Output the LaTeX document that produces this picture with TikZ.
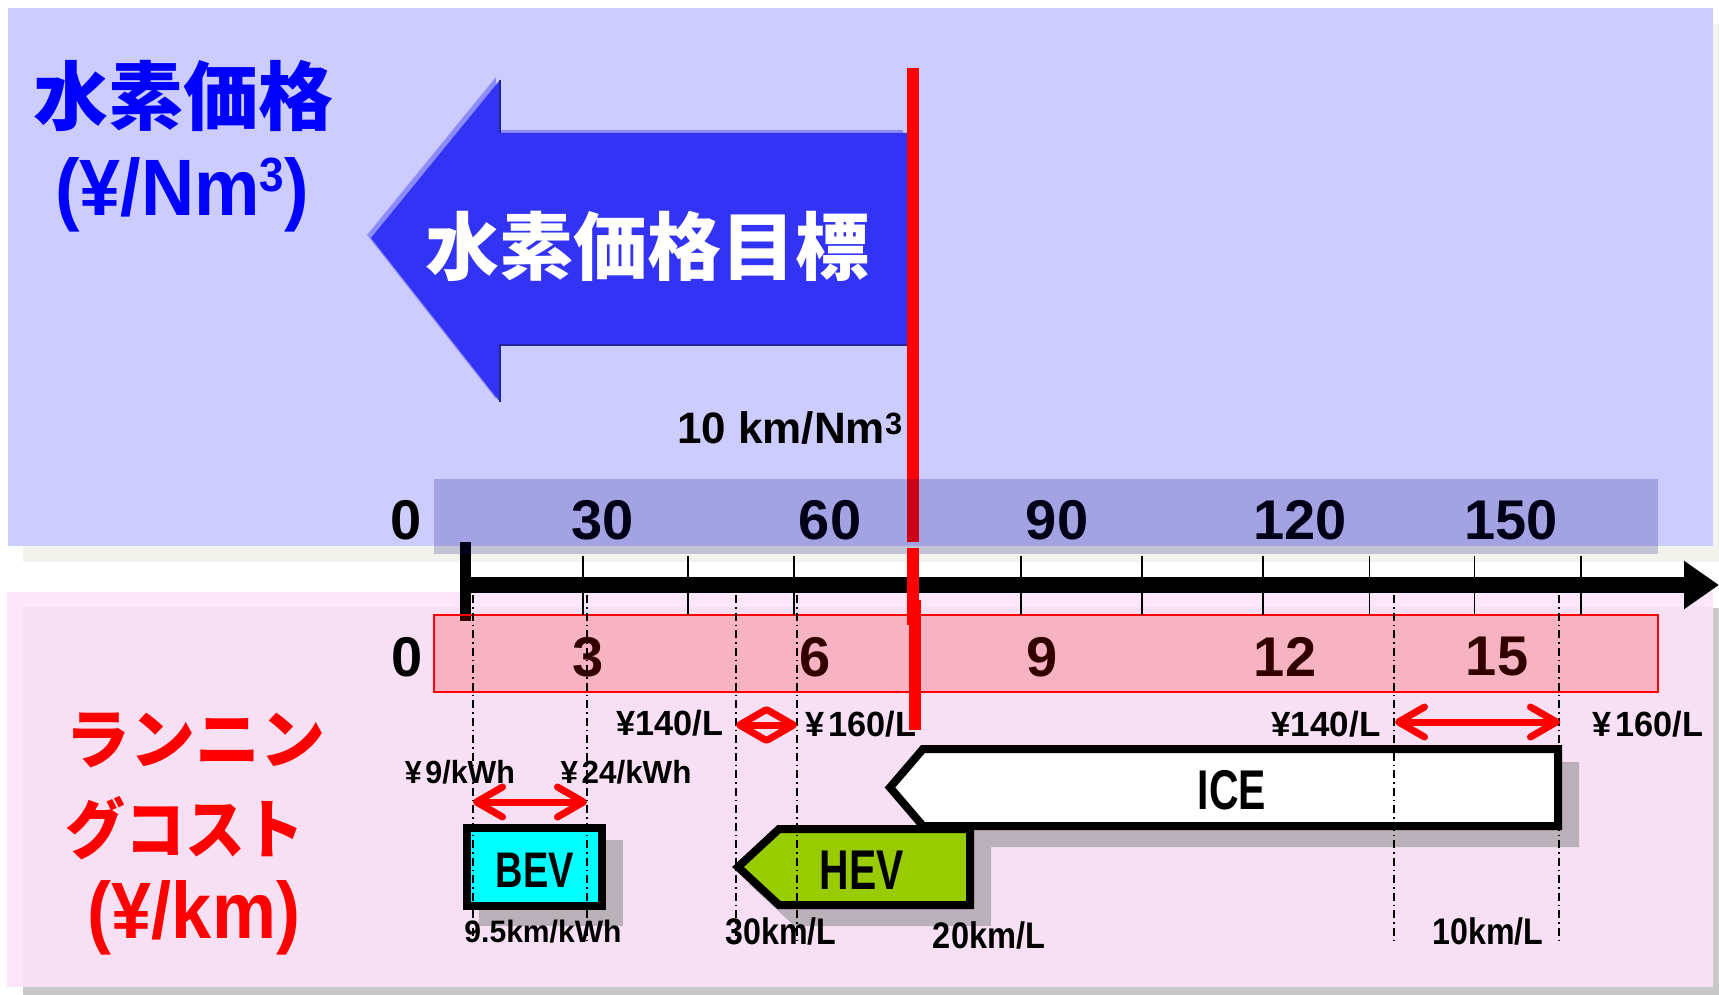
\documentclass[tikz,border=0pt]{standalone}
\usepackage{fontspec}
\setmainfont{Liberation Sans}
\newfontfamily\jpfont{Noto Sans CJK JP}
\usetikzlibrary{arrows.meta}
\definecolor{bgblue}{HTML}{CCCCFF}
\definecolor{bgshadow}{HTML}{F3F3EE}
\definecolor{pinkouter}{HTML}{FCE6F9}
\definecolor{pinkinner}{HTML}{F7E0F3}
\definecolor{pinkshadow}{HTML}{C8C8C8}
\definecolor{arrowblue}{HTML}{3333F5}
\definecolor{arrowlight}{HTML}{8C8CFF}
\definecolor{arrowdark}{HTML}{25259A}
\definecolor{bandblue}{RGB}{0,0,115}
\definecolor{hevgreen}{HTML}{99CC00}
\definecolor{bevcyan}{RGB}{0,255,255}
\definecolor{boxshadow}{RGB}{186,176,186}
\newcommand{\sxs}[2]{\scalebox{#1}[1]{#2}}
\newcommand{\supthree}{\raisebox{0.3em}{\scalebox{0.6}{3}}}
\newcommand{\yen}{¥\hspace{0.12em}}
\tikzset{
  txt/.style={inner sep=0pt, anchor=center},
  axnum/.style={txt, font=\fontsize{56}{60}\selectfont\bfseries},
  smalllab/.style={txt, font=\fontsize{35}{38}\selectfont\bfseries},
  kmlab/.style={txt, font=\fontsize{37}{40}\selectfont\bfseries},
  boxtxt/.style={txt, font=\fontsize{56}{60}\selectfont\bfseries},
  jpbig/.style={txt, font=\jpfont\bfseries\fontsize{75}{80}\selectfont},
  jpmid/.style={txt, font=\jpfont\bfseries\fontsize{65}{70}\selectfont},
  unitlab/.style={txt, font=\fontsize{80}{84}\selectfont\bfseries},
  ddash/.style={line width=1.5pt, dash pattern=on 8pt off 4pt on 1.5pt off 4pt},
  tickline/.style={line width=1.8pt},
  redarr/.style={draw=red, line width=7pt,
     {Straight Barb[length=26pt,width=30pt,round]}-{Straight Barb[length=26pt,width=30pt,round]}},
  boxline/.style={line width=8pt, line join=miter},
  boxshade/.style={fill=boxshadow, draw=boxshadow, line width=8pt},
  redline/.style={draw=red, line width=12pt},
}
\begin{document}
\begin{tikzpicture}[x=1pt,y=-1pt]
\useasboundingbox (0,0) rectangle (1719,995);
\clip (0,0) rectangle (1719,995);
\fill[white] (0,0) rectangle (1719,995);
% panels
\fill[bgshadow] (23,24) rectangle (1740,562);
\fill[bgblue] (8,8) rectangle (1713,546);
\fill[pinkshadow] (23,608) rectangle (1740,1010);
\fill[pinkouter] (7,592) rectangle (1713,987);
\fill[pinkinner] (23,607) rectangle (1713,987);

% big target arrow
\fill[arrowlight, shift={(-4,-3)}] (371,238) -- (500,80) -- (500,133) -- (907,133) -- (907,345) -- (500,345) -- (500,402) -- cycle;
\fill[arrowblue] (371,238) -- (500,80) -- (500,133) -- (907,133) -- (907,345) -- (500,345) -- (500,402) -- cycle;
\draw[arrowdark, line width=2pt] (500,80) -- (500,133);
\draw[arrowdark, line width=2pt] (500,402) -- (500,345) -- (907,345);
\node[jpbig, white, font=\jpfont\bfseries\fontsize{74}{80}\selectfont] (goal) at (647,246) {水素価格目標};

% left titles
\node[jpbig, text=blue] (h2title) at (184,96) {水素価格};
\node[unitlab, text=blue] (h2unit) at (182,195) {\sxs{0.92}{(¥/Nm\supthree)}};
\node[jpmid, text=red] (rc1) at (195,740) {ランニン};
\node[jpmid, text=red] (rc2) at (185,828) {\sxs{0.92}{グコスト}};
\node[unitlab, text=red] (rcunit) at (194,918) {\sxs{0.9}{(¥/km)}};

\node[txt, font=\fontsize{44}{48}\selectfont\bfseries] (eff) at (790,428) {10 km/Nm\textsuperscript{3}};

% red target line, upper part
\coordinate (r1a) at (913,68);
\coordinate (r1b) at (913,542);
\draw[redline] (r1a) -- (r1b);

% axis numbers
\node[axnum] (t0) at (406,520) {0};
\node[axnum] (t30) at (603,520) {30};
\node[axnum] (t60) at (830,520) {60};
\node[axnum] (t90) at (1057,520) {90};
\node[axnum] (t120) at (1300,520) {120};
\node[axnum] (t150) at (1511,520) {150};
\node[axnum] (b0) at (407,657) {0};
\node[axnum] (b3) at (588,657) {3};
\node[axnum] (b6) at (815,657) {6};
\node[axnum] (b9) at (1042,657) {9};
\node[axnum] (b12) at (1285,657) {12};
\node[axnum] (b15) at (1497,657) {15};

% axis start bar
\coordinate (bara) at (465.5,542);
\coordinate (barb) at (465.5,621);
\draw[line width=11pt] (bara) -- (barb);

% bands
\fill[bandblue, opacity=0.2] (434,479) rectangle (1658,554);
\filldraw[fill=red, fill opacity=0.2, draw=red, line width=1.5pt] (434,615) rectangle (1658,692);

% ticks
\foreach \x in {583,688,794,913,1021,1142,1263,1369.5,1474.5,1581}
  \draw[tickline] (\x,556) -- (\x,615);

% axis
\coordinate (axs) at (465,585);
\coordinate (axe) at (1719,585);
\draw[line width=16pt, -{Triangle[length=35pt,width=46pt]}] (axs) -- (axe);

% red target line, lower parts
\coordinate (r2a) at (913,548);
\coordinate (r2b) at (913,625);
\coordinate (r3a) at (915,600);
\coordinate (r3b) at (915,730);
\draw[redline] (r2a) -- (r2b);
\draw[redline] (r3a) -- (r3b);

% shadows
\fill[boxshadow] (479,840) rectangle (623,926);
\filldraw[boxshade, shift={(17,17)}] (923,749) -- (1558,749) -- (1558,826) -- (923,826) -- (890,787.5) -- cycle;
\filldraw[boxshade, shift={(17,17)}] (779,829) -- (970,829) -- (970,905) -- (779,905) -- (738,867) -- cycle;

% boxes
\node[draw, boxline, fill=bevcyan, minimum width=135pt, minimum height=78pt, inner sep=0pt] (bev) at (534.5,867) {};
\node[boxtxt, font=\fontsize{50}{54}\selectfont\bfseries] (bevt) at (535,870) {\sxs{0.76}{BEV}};
\filldraw[fill=white, boxline] (923,749) -- (1558,749) -- (1558,826) -- (923,826) -- (890,787.5) -- cycle;
\node[boxtxt] (ice) at (1232,790) {\sxs{0.73}{ICE}};
\filldraw[fill=hevgreen, boxline] (779,829) -- (970,829) -- (970,905) -- (779,905) -- (738,867) -- cycle;
\node[boxtxt] (hev) at (862,870) {\sxs{0.73}{HEV}};

% labels
\node[smalllab, font=\fontsize{32}{34}\selectfont\bfseries] (p9) at (460,772) {\sxs{0.95}{\yen 9/kWh}};
\node[smalllab, font=\fontsize{32}{34}\selectfont\bfseries] (p24) at (626,772) {\sxs{0.98}{\yen 24/kWh}};
\node[smalllab] (p140a) at (670,723) {\sxs{0.98}{¥140/L}};
\node[smalllab] (p160a) at (861,724) {\sxs{0.98}{\yen 160/L}};
\node[smalllab] (p140b) at (1326,724) {\sxs{1.0}{¥140/L}};
\node[smalllab] (p160b) at (1648,724) {\sxs{0.98}{\yen 160/L}};
\node[smalllab, font=\fontsize{31}{34}\selectfont\bfseries] (e95) at (543,932) {\sxs{0.97}{9.5km/kWh}};
\node[kmlab] (e30) at (781,931) {\sxs{0.87}{30km/L}};
\node[kmlab] (e20) at (989,935) {\sxs{0.88}{20km/L}};
\node[kmlab] (e10) at (1488,931) {\sxs{0.87}{10km/L}};

% dash-dot guide lines
\foreach \x/\n in {473/ga,587/gb,736/gc,797/gd,1394/ge,1559/gf}{
  \coordinate (\n top) at (\x,595);
  \coordinate (\n bot) at (\x,942);
  \draw[ddash] (\n top) -- (\n bot);
}

% red range arrows
\coordinate (bevL) at (473,802);
\coordinate (bevR) at (587,802);
\coordinate (hevL) at (736,725);
\coordinate (hevR) at (797,725);
\coordinate (iceL) at (1395,722);
\coordinate (iceR) at (1560,722);
\draw[redarr] (bevL) -- (bevR);
\draw[redarr] (hevL) -- (hevR);
\draw[redarr] (iceL) -- (iceR);
\end{tikzpicture}
\end{document}
